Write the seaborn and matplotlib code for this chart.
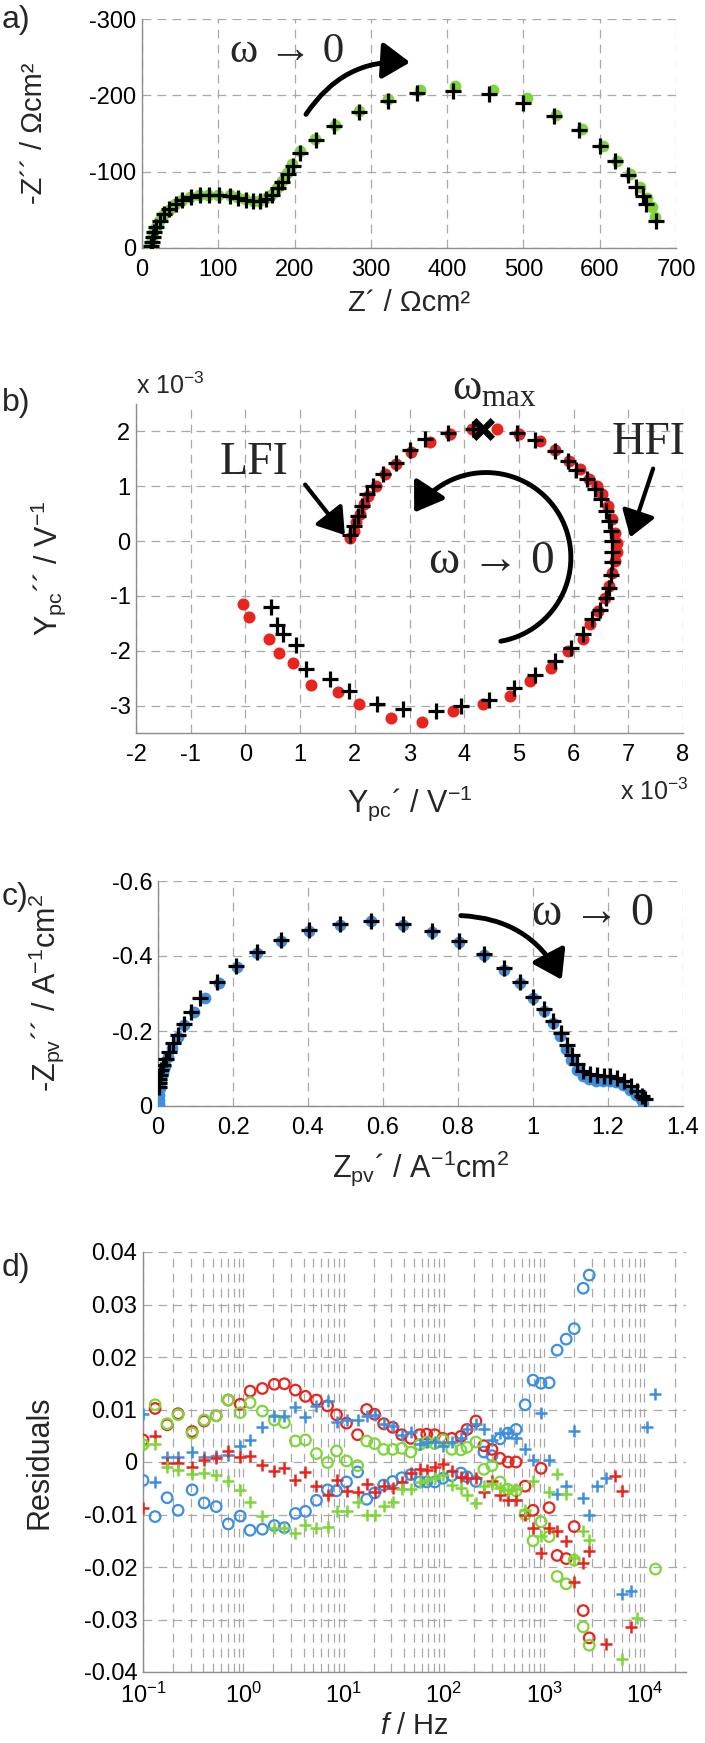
"""
Impedance panels a-d: measured vs fitted Nyquist plots and the
frequency-resolved residuals of the fit.
"""

import numpy as np
import pandas as pd
import matplotlib
matplotlib.use("Agg")
import matplotlib.pyplot as plt
import matplotlib.ticker as mticker
import seaborn as sns
from matplotlib.patches import FancyArrowPatch
from matplotlib.path import Path

# ---------------------------------------------------------------------------
# Data
# ---------------------------------------------------------------------------

# a) impedance, Ohm cm2
a_meas_re = [11, 12, 13, 15, 18, 22, 28, 35, 43, 52, 63, 75, 87, 100, 115, 125, 135, 145,
             153, 162, 170, 177, 183, 190, 197, 207, 227, 253, 284, 322, 365, 410, 460,
             505, 543, 577, 604, 623, 640, 653, 662, 669, 673]
a_meas_im = [-2, -7, -13, -20, -27, -35, -43, -50, -57, -63, -67, -69, -70, -70, -69, -67,
             -64, -62, -62, -65, -71, -79, -88, -98, -110, -127, -143, -161, -180, -195,
             -207, -212, -207, -196, -174, -156, -133, -114, -97, -80, -66, -54, -41]
a_fit_re = [12, 13, 14, 16, 19, 23, 29, 36, 44, 53, 64, 76, 88, 101, 115, 126, 136, 146,
            155, 163, 171, 178, 184, 191, 198, 207, 228, 252, 285, 322, 360, 408, 455,
            500, 540, 573, 600, 620, 637, 648, 657, 661, 674]
a_fit_im = [-3, -8, -14, -21, -28, -36, -44, -51, -58, -63, -67, -69, -70, -70, -68, -66,
            -63, -61, -61, -64, -70, -78, -87, -97, -108, -124, -141, -160, -178, -192,
            -203, -206, -202, -190, -173, -155, -134, -114, -96, -80, -68, -57, -36]

# b) admittance, x 1e-3 V^-1
b_meas_re = [-0.05, 0.07, 0.44, 0.61, 0.87, 1.20, 1.69, 2.07, 2.67, 3.22, 3.80, 4.34, 4.84,
             5.21, 5.58, 5.89, 6.17, 6.30, 6.44, 6.57, 6.65, 6.70, 6.75, 6.79, 6.79, 6.75,
             6.70, 6.62, 6.52, 6.43, 6.28, 6.11, 5.91, 5.66, 5.38, 5.01, 4.60, 4.15, 3.74,
             3.37, 3.02, 2.75, 2.55, 2.39, 2.25, 2.16, 2.10, 2.03, 1.98, 1.92]
b_meas_im = [-1.14, -1.38, -1.79, -2.04, -2.22, -2.63, -2.76, -2.98, -3.23, -3.30, -3.09,
             -2.98, -2.83, -2.56, -2.31, -2.01, -1.79, -1.52, -1.28, -1.03, -0.82, -0.58,
             -0.36, -0.20, -0.03, 0.15, 0.40, 0.64, 0.85, 1.01, 1.13, 1.31, 1.46, 1.67,
             1.82, 1.95, 2.04, 2.04, 1.95, 1.81, 1.63, 1.40, 1.22, 1.00, 0.82, 0.67, 0.49,
             0.34, 0.19, 0.05]
b_fit_re = [0.46, 0.58, 0.69, 0.93, 1.10, 1.55, 1.89, 2.41, 2.89, 3.48, 3.94, 4.46, 4.91,
            5.30, 5.66, 5.95, 6.17, 6.34, 6.48, 6.59, 6.65, 6.69, 6.70, 6.70, 6.70, 6.69,
            6.65, 6.59, 6.51, 6.40, 6.24, 6.05, 5.89, 5.66, 5.30, 4.97, 4.16, 3.70, 3.29,
            3.00, 2.75, 2.52, 2.33, 2.22, 2.14, 2.06, 1.98, 1.92]
b_fit_im = [-1.20, -1.53, -1.70, -1.90, -2.34, -2.51, -2.74, -2.98, -3.07, -3.09, -3.00,
            -2.89, -2.68, -2.45, -2.19, -1.95, -1.70, -1.43, -1.25, -1.03, -0.85, -0.61,
            -0.39, -0.20, 0.01, 0.19, 0.37, 0.55, 0.76, 0.95, 1.13, 1.30, 1.46, 1.65,
            1.85, 1.98, 2.04, 1.98, 1.86, 1.66, 1.43, 1.22, 1.01, 0.86, 0.64, 0.46, 0.28,
            0.12]
b_wmax = (4.35, 2.05)

# c) photovoltage impedance, A^-1 cm2
c_meas_re = [0.002, 0.002, 0.003, 0.005, 0.008, 0.012, 0.018, 0.027, 0.038, 0.052, 0.070,
             0.096, 0.124, 0.162, 0.211, 0.264, 0.328, 0.403, 0.484, 0.568, 0.652, 0.730,
             0.802, 0.868, 0.922, 0.966, 1.000, 1.030, 1.054, 1.072, 1.088, 1.102, 1.116,
             1.132, 1.150, 1.168, 1.186, 1.204, 1.222, 1.240, 1.258, 1.274, 1.288, 1.294]
c_meas_im = [-0.005, -0.015, -0.030, -0.048, -0.067, -0.087, -0.108, -0.130, -0.155,
             -0.183, -0.215, -0.250, -0.287, -0.328, -0.370, -0.408, -0.440, -0.467,
             -0.484, -0.493, -0.484, -0.465, -0.437, -0.403, -0.364, -0.328, -0.288,
             -0.253, -0.222, -0.187, -0.152, -0.122, -0.097, -0.080, -0.071, -0.067,
             -0.066, -0.066, -0.063, -0.055, -0.043, -0.030, -0.018, -0.008]
c_fit_re = [0.002, 0.002, 0.003, 0.004, 0.008, 0.014, 0.020, 0.028, 0.040, 0.052, 0.068,
            0.088, 0.112, 0.158, 0.209, 0.264, 0.328, 0.403, 0.484, 0.568, 0.652, 0.730,
            0.802, 0.868, 0.922, 0.966, 1.000, 1.030, 1.054, 1.074, 1.090, 1.104, 1.118,
            1.134, 1.152, 1.170, 1.188, 1.206, 1.224, 1.242, 1.260, 1.276, 1.290, 1.298]
c_fit_im = [-0.052, -0.062, -0.072, -0.082, -0.095, -0.110, -0.125, -0.145, -0.168,
            -0.190, -0.218, -0.252, -0.287, -0.331, -0.373, -0.411, -0.444, -0.470,
            -0.486, -0.494, -0.485, -0.467, -0.440, -0.406, -0.368, -0.332, -0.292,
            -0.259, -0.228, -0.196, -0.164, -0.137, -0.112, -0.094, -0.085, -0.082,
            -0.081, -0.080, -0.075, -0.066, -0.053, -0.040, -0.027, -0.018]

# d) residuals vs frequency (Hz); nan where a series has no point
nan = np.nan
freq = [0.1, 0.132, 0.174, 0.224, 0.309, 0.407, 0.537, 0.708, 0.933, 1.17, 1.55, 2.04,
        2.57, 3.31, 4.17, 5.37, 6.92, 8.51, 10.7, 13.8, 17.0, 20.4, 25.1, 30.9, 38.0,
        46.8, 57.5, 67.6, 81.3, 97.7, 120, 148, 170, 209, 251, 302, 363, 437, 525, 646,
        776, 933, 1122, 1349, 1660, 1995, 2455, 2818, 3390, 4170, 5130, 6030, 7410,
        8510, 10500, 12900]
res_blue_o = [-0.0035, -0.0104, -0.0068, -0.0092, -0.0053, -0.0078, -0.0085, -0.0118,
              -0.0103, -0.0130, -0.0128, -0.0121, -0.0125, -0.0098, -0.0094, -0.0073,
              -0.0053, -0.0055, -0.0038, -0.0019, -0.0071, -0.0059, -0.0044, -0.0037,
              -0.0030, -0.0024, -0.0038, -0.0038, -0.0038, -0.0031, -0.0026, -0.0021,
              -0.0028, -0.0037, 0.0019, 0.0012, 0.0044, 0.0055, 0.0062, 0.0109, 0.0156,
              0.0150, 0.0151, 0.0213, 0.0234, 0.0254, 0.0331, 0.0356,
              nan, nan, nan, nan, nan, nan, nan, nan]
res_red_o = [0.0042, 0.0102, 0.0071, 0.0092, 0.0058, 0.0078, 0.0088, 0.0118, 0.0110,
             0.0135, 0.0140, 0.0148, 0.0149, 0.0137, 0.0125, 0.0118, 0.0107, 0.0090,
             0.0074, 0.0052, 0.0100, 0.0091, 0.0073, 0.0066, 0.0052, 0.0045, 0.0052,
             0.0053, 0.0052, 0.0045, 0.0045, 0.0049, 0.0062, 0.0078, 0.0031, 0.0024,
             0.0007, 0.0000, 0.0000, -0.0046, -0.0092, -0.0012, -0.0087, -0.0178,
             -0.0184, -0.0123, -0.0283, -0.0335,
             nan, nan, nan, nan, nan, nan, nan, nan]
res_green_o = [0.0033, 0.0109, 0.0073, 0.0090, 0.0055, 0.0080, 0.0088, 0.0118, 0.0094,
               0.0113, 0.0097, 0.0080, 0.0075, 0.0040, 0.0042, 0.0016, -0.0001, 0.0021,
               0.0002, -0.0007, 0.0040, 0.0035, 0.0024, 0.0024, 0.0026, 0.0019, 0.0033,
               0.0038, 0.0035, 0.0042, 0.0024, 0.0023, 0.0028, 0.0038, -0.0014, -0.0007,
               -0.0038, -0.0052, -0.0055, -0.0100, -0.0150, -0.0114, -0.0142, -0.0218,
               -0.0232, -0.0187, -0.0314, -0.0349,
               nan, nan, nan, nan, nan, nan, nan, -0.0204]
res_blue_p = [0.0091, -0.0038, 0.0009, 0.0009, 0.0019, 0.0009, 0.0012, 0.0014, 0.0030,
              0.0042, 0.0066, 0.0088, 0.0088, 0.0104, 0.0085, 0.0107, 0.0116, 0.0076,
              0.0080, 0.0080, 0.0087, 0.0090, 0.0073, 0.0069, 0.0052, 0.0058, 0.0035,
              0.0038, 0.0038, 0.0030, 0.0038, 0.0045, 0.0062, 0.0073, 0.0062, 0.0042,
              0.0055, 0.0055, 0.0046, 0.0024, 0.0003, 0.0094, 0.0003, -0.0060, -0.0046,
              0.0059, -0.0069, -0.0100,
              -0.0046, -0.0030, nan, -0.0252, -0.0246, nan, 0.0067, 0.0130]
res_red_p = [-0.0087, 0.0049, -0.0002, -0.0002, -0.0009, 0.0003, 0.0007, 0.0021, 0.0010,
             0.0012, -0.0005, -0.0017, -0.0012, -0.0035, -0.0019, -0.0046, -0.0062,
             -0.0035, -0.0055, -0.0058, -0.0042, -0.0058, -0.0046, -0.0049, -0.0038,
             -0.0021, -0.0014, -0.0016, -0.0010, -0.0003, -0.0017, -0.0028, -0.0030,
             -0.0031, -0.0058, -0.0037, -0.0062, -0.0073, -0.0073, -0.0100, -0.0125,
             -0.0173, -0.0125, -0.0132, -0.0150, -0.0229, -0.0192, -0.0170,
             nan, -0.0347, -0.0026, -0.0055, -0.0314, nan, nan, nan]
res_green_p = [0.0033, 0.0035, -0.0010, -0.0016, -0.0023, -0.0021, -0.0024, -0.0037,
               -0.0053, -0.0076, -0.0102, -0.0125, -0.0125, -0.0135, -0.0120, -0.0125,
               -0.0123, -0.0094, -0.0094, -0.0076, -0.0100, -0.0100, -0.0083, -0.0076,
               -0.0051, -0.0052, -0.0038, -0.0035, -0.0031, -0.0024, -0.0044, -0.0049,
               -0.0062, -0.0078, -0.0045, -0.0042, -0.0049, -0.0053, -0.0051, -0.0092,
               -0.0037, -0.0141, -0.0058, -0.0023, -0.0060, -0.0182, -0.0132, -0.0149,
               nan, nan, nan, -0.0376, nan, -0.0298, nan, nan]

GREEN = "#7ed63a"
RED = "#e8241e"
BLUE = "#3d8fe0"
GRID = "#a8a8a8"
SPINE = "#8c8c8c"
SERIF = ["Liberation Serif", "DejaVu Serif"]

# ---------------------------------------------------------------------------
# Theme / layout
# ---------------------------------------------------------------------------

sns.set_theme(style="white")
plt.rcParams["font.family"] = ["Liberation Sans", "DejaVu Sans"]
plt.rcParams["mathtext.fontset"] = "custom"
plt.rcParams["mathtext.rm"] = "Liberation Sans"
plt.rcParams["mathtext.it"] = "Liberation Sans:italic"
plt.rcParams["axes.unicode_minus"] = False

W, H = 705, 1743
fig = plt.figure(figsize=(W / 100, H / 100), dpi=100)


def axes_px(left, right, top, bottom):
    return fig.add_axes([left / W, 1 - bottom / H, (right - left) / W, (bottom - top) / H])


def style(ax, minor=False):
    for side in ("top", "right"):
        ax.spines[side].set_visible(False)
    for side in ("left", "bottom"):
        ax.spines[side].set_color(SPINE)
        ax.spines[side].set_linewidth(1.0)
    ax.grid(True, which="major", color=GRID, linestyle=(0, (7, 5)), linewidth=0.9)
    if minor:
        ax.grid(True, which="minor", axis="x", color=GRID, linestyle=(0, (7, 5)), linewidth=0.9)
    ax.set_axisbelow(True)
    ax.tick_params(axis="both", which="both", length=0, labelsize=17, colors="black")
    ax.tick_params(axis="x", pad=8)
    ax.tick_params(axis="y", pad=4)
    ax.set_facecolor("white")


fmt_g = mticker.FuncFormatter(lambda v, _: f"{v:g}")
ARROW = "-|>,head_length=0.6,head_width=0.4"

# ---------------------------------------------------------------------------
# a) Nyquist impedance
# ---------------------------------------------------------------------------

ax = axes_px(142, 676, 19, 248)
sns.scatterplot(x=a_meas_re, y=a_meas_im, ax=ax, color=GREEN, s=72, linewidth=0, zorder=3)
sns.scatterplot(x=a_fit_re, y=a_fit_im, ax=ax, color="black", marker="+", s=125,
                linewidth=2.3, zorder=4)
ax.set_xlim(0, 700)
ax.set_ylim(0, -300)
ax.set_xticks(range(0, 701, 100))
ax.set_yticks([0, -100, -200, -300])
ax.yaxis.set_major_formatter(fmt_g)
style(ax)
ax.set_xlabel("Z´ / Ωcm²", fontsize=21)
ax.set_ylabel("-Z´´ / Ωcm²", fontsize=21)
ax.xaxis.set_label_coords(0.5, -0.18)
ax.yaxis.set_label_coords((48 - 142) / 534, 0.5)
ax.text(190, -257, "ω → 0", family=SERIF, fontsize=31, ha="center", va="center")
ax.add_patch(FancyArrowPatch((213, -172), (355, -243), connectionstyle="arc3,rad=-0.3",
                             arrowstyle=ARROW, mutation_scale=28, lw=3.5, color="black"))
fig.text(2 / W, 1 - 20 / H, "a)", fontsize=23, va="center", ha="left")

# ---------------------------------------------------------------------------
# b) admittance
# ---------------------------------------------------------------------------

ax = axes_px(136, 683, 404, 733)
sns.scatterplot(x=b_meas_re, y=b_meas_im, ax=ax, color=RED, s=75, linewidth=0, zorder=3)
sns.scatterplot(x=b_fit_re, y=b_fit_im, ax=ax, color="black", marker="+", s=130,
                linewidth=2.3, zorder=4)
sns.scatterplot(x=[b_wmax[0]], y=[b_wmax[1]], ax=ax, color="black", marker="x", s=180,
                linewidth=4.5, zorder=5)
ax.set_xlim(-2, 8)
ax.set_ylim(-3.5, 2.5)
ax.set_xticks(range(-2, 9))
ax.set_yticks(range(-3, 3))
style(ax)
ax.set_xlabel("Y$_{\\mathregular{pc}}$´ / V$^{\\mathregular{-1}}$", fontsize=22)
ax.set_ylabel("Y$_{\\mathregular{pc}}$´´ / V$^{\\mathregular{-1}}$", fontsize=22)
ax.xaxis.set_label_coords(0.5, -0.155)
ax.yaxis.set_label_coords((68 - 136) / 547, 0.5)
ax.text(0.0, 1.015, "x 10$^{\\mathregular{-3}}$", transform=ax.transAxes, fontsize=18,
        ha="left", va="bottom")
ax.text(1.01, -0.14, "x 10$^{\\mathregular{-3}}$", transform=ax.transAxes, fontsize=18,
        ha="right", va="top")
ax.text(4.56, 2.78, "ω$_{\\mathregular{max}}$", family=SERIF, fontsize=32, ha="center",
        va="center", clip_on=False)
ax.text(0.15, 1.43, "LFI", family=SERIF, fontsize=33, ha="center", va="center")
ax.text(7.38, 1.8, "HFI", family=SERIF, fontsize=33, ha="center", va="center")
ax.text(4.5, -0.38, "ω → 0", family=SERIF, fontsize=34, ha="center", va="center")
for start, end in [((1.06, 1.07), (1.85, 0.07)), ((7.47, 1.37), (7.02, 0.02))]:
    ax.add_patch(FancyArrowPatch(start, end, arrowstyle=ARROW, mutation_scale=26, lw=3.0,
                                 color="black"))
theta = np.radians(np.linspace(-80, 148, 80))
arc = Path(np.column_stack([4.4 + 1.55 * np.cos(theta), -0.3 + 1.55 * np.sin(theta)]))
ax.add_patch(FancyArrowPatch(path=arc, arrowstyle=ARROW, mutation_scale=28, lw=3.5,
                             color="black"))
fig.text(2 / W, 1 - 403 / H, "b)", fontsize=23, va="center", ha="left")

# ---------------------------------------------------------------------------
# c) photovoltage impedance
# ---------------------------------------------------------------------------

ax = axes_px(158, 683, 881, 1106)
sns.scatterplot(x=c_meas_re, y=c_meas_im, ax=ax, color=BLUE, s=72, linewidth=0, zorder=3)
sns.scatterplot(x=c_fit_re, y=c_fit_im, ax=ax, color="black", marker="+", s=130,
                linewidth=2.3, zorder=4)
ax.set_xlim(0, 1.4)
ax.set_ylim(0, -0.6)
ax.set_xticks([0, 0.2, 0.4, 0.6, 0.8, 1.0, 1.2, 1.4])
ax.set_yticks([0, -0.2, -0.4, -0.6])
ax.xaxis.set_major_formatter(fmt_g)
ax.yaxis.set_major_formatter(fmt_g)
style(ax)
ax.set_xlabel("Z$_{\\mathregular{pv}}$´ / A$^{\\mathregular{-1}}$cm$^{\\mathregular{2}}$",
              fontsize=22)
ax.set_ylabel("-Z$_{\\mathregular{pv}}$´´ / A$^{\\mathregular{-1}}$cm$^{\\mathregular{2}}$",
              fontsize=22)
ax.xaxis.set_label_coords(0.5, -0.19)
ax.yaxis.set_label_coords((66 - 158) / 525, 0.5)
ax.text(1.16, -0.513, "ω → 0", family=SERIF, fontsize=33, ha="center", va="center")
ax.add_patch(FancyArrowPatch((0.80, -0.508), (1.08, -0.33), connectionstyle="arc3,rad=-0.3",
                             arrowstyle=ARROW, mutation_scale=28, lw=3.5, color="black"))
fig.text(2 / W, 1 - 897 / H, "c)", fontsize=23, va="center", ha="left")

# ---------------------------------------------------------------------------
# d) residuals
# ---------------------------------------------------------------------------

res = pd.DataFrame({"f": freq,
                    "blue o": res_blue_o, "red o": res_red_o, "green o": res_green_o,
                    "blue +": res_blue_p, "red +": res_red_p, "green +": res_green_p})
long = res.melt(id_vars="f", var_name="series", value_name="r").dropna()
colors = {"blue": BLUE, "red": RED, "green": GREEN}

ax = axes_px(143, 686, 1252, 1672)
for name, grp in long.groupby("series", sort=False):
    col, kind = name.split()
    if kind == "o":
        sns.scatterplot(data=grp, x="f", y="r", ax=ax, marker="o", s=58, color=colors[col],
                        facecolor="none", edgecolor=colors[col], linewidth=1.6, zorder=3)
    else:
        sns.scatterplot(data=grp, x="f", y="r", ax=ax, marker="+", s=80, color=colors[col],
                        linewidth=1.8, zorder=4)
ax.set_xscale("log")
ax.set_xlim(0.1, 2.6e4)
ax.set_ylim(-0.04, 0.04)
ax.set_yticks([-0.04, -0.03, -0.02, -0.01, 0, 0.01, 0.02, 0.03, 0.04])
ax.yaxis.set_major_formatter(fmt_g)
ax.xaxis.set_major_locator(mticker.LogLocator(base=10, numticks=10))
ax.xaxis.set_minor_locator(mticker.LogLocator(base=10, subs=np.arange(2, 10), numticks=20))
ax.xaxis.set_minor_formatter(mticker.NullFormatter())
style(ax, minor=True)
ax.set_xlabel("$f$ / Hz", fontsize=21)
ax.set_ylabel("Residuals", fontsize=22)
ax.xaxis.set_label_coords(0.5, -0.095)
ax.yaxis.set_label_coords((55 - 143) / 543, 0.5)
fig.text(2 / W, 1 - 1268 / H, "d)", fontsize=23, va="center", ha="left")

fig.savefig("out.png", dpi=100, facecolor="white")
